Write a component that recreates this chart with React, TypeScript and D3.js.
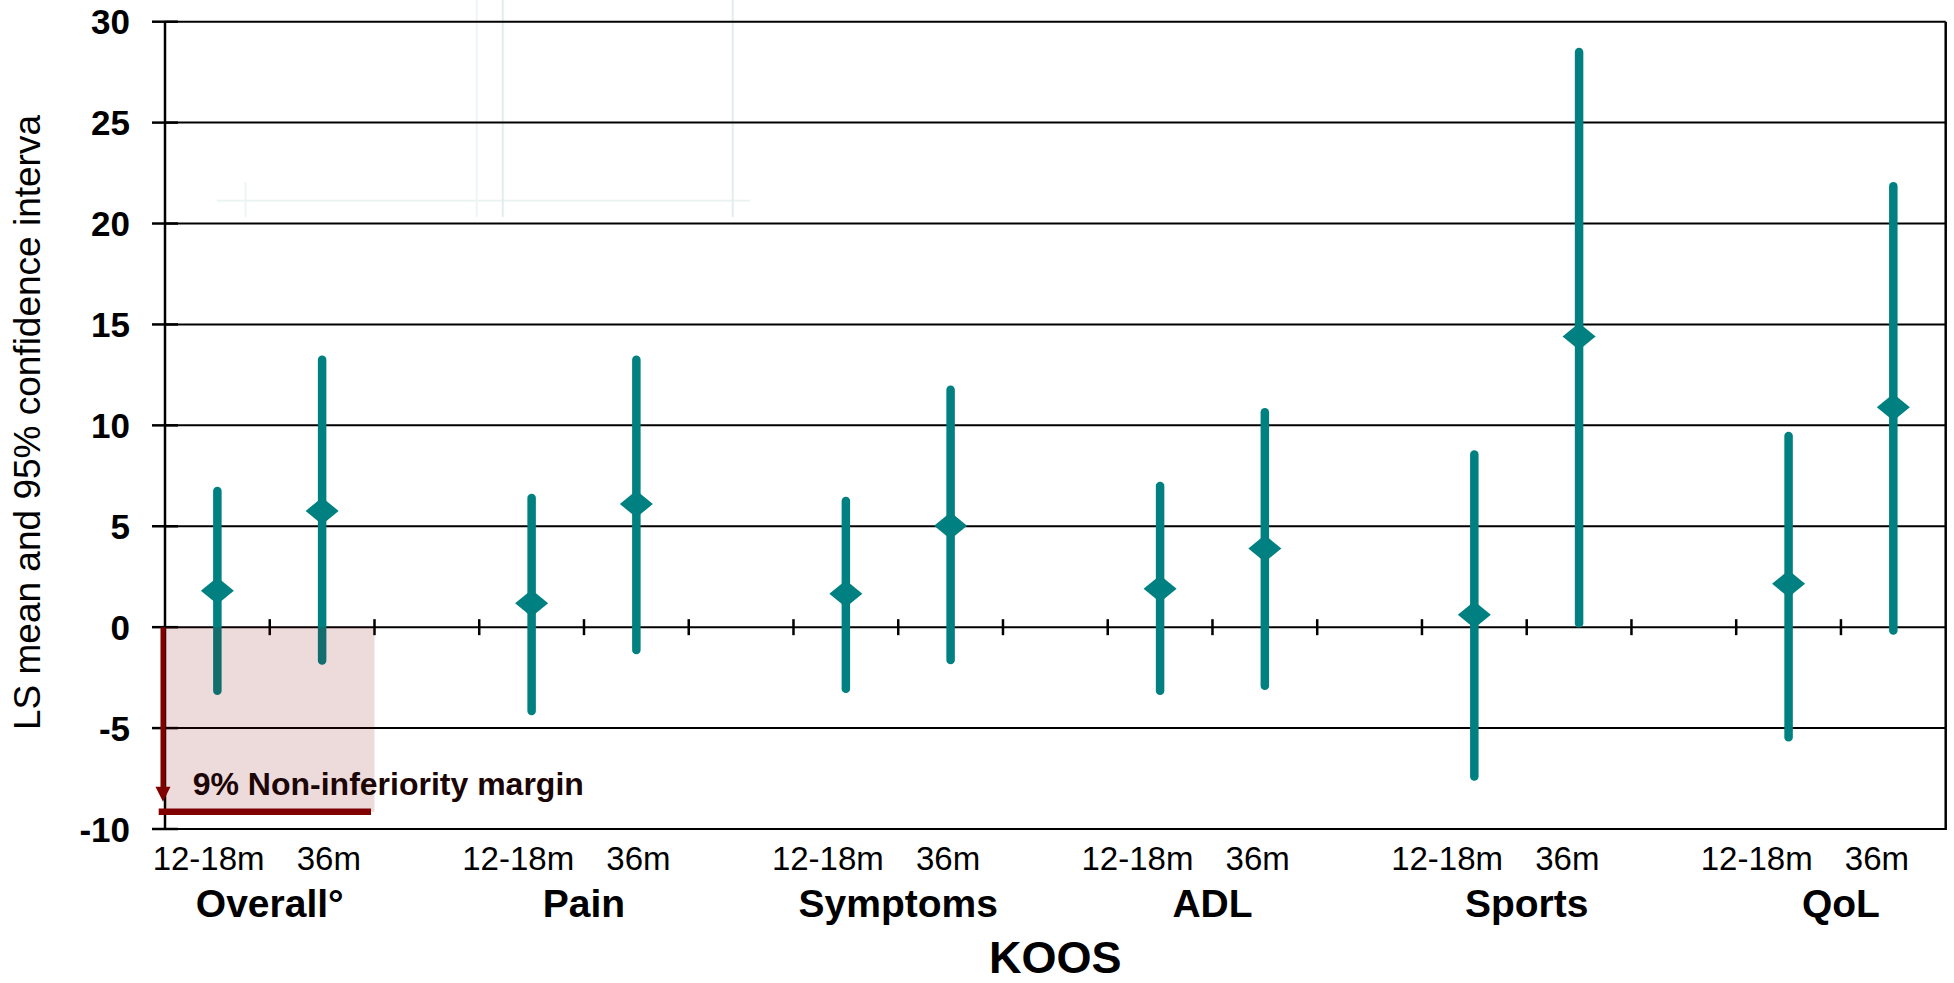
import React from 'react';
import * as d3 from 'd3';

const categories = ['Overall°', 'Pain', 'Symptoms', 'ADL', 'Sports', 'QoL'];
const timepoints = ['12-18m', '36m'];
const yTicks = [-10, -5, 0, 5, 10, 15, 20, 25, 30];

// LS mean and 95% CI, one pair [12-18m, 36m] per KOOS subscale
const means = [[1.8, 5.76], [1.18, 6.1], [1.65, 5.02], [1.9, 3.9], [0.62, 14.4], [2.15, 10.9]];
const lower = [[-3.15, -1.65], [-4.15, -1.13], [-3.05, -1.63], [-3.15, -2.9], [-7.4, 0.2], [-5.45, -0.16]];
const upper = [[6.75, 13.25], [6.4, 13.25], [6.25, 11.76], [7.0, 10.65], [8.55, 28.5], [9.47, 21.85]];
const NI_MARGIN = -9.15;

const W = 1954;
const H = 983;
const FONT = '"Liberation Sans", Arial, Helvetica, sans-serif';
const TEAL = '#008080';
const DARKRED = '#800000';

export default function App() {
  const left = 165;
  const right = 1945.7;
  const top = 21.7;
  const bottom = 829;

  // three slots per subscale (12-18m, 36m, gap), no gap after the last one
  const slots = categories.flatMap((c, i) =>
    i < categories.length - 1 ? [`${i}-0`, `${i}-1`, `${i}-g`] : [`${i}-0`, `${i}-1`]
  );

  const x = d3.scaleBand().domain(slots).range([left, right]);
  const xLabel = d3.scaleBand().domain(slots).range([157, 1911.5]);
  const y = d3.scaleLinear().domain([-10, 30]).range([bottom, top]);

  const rows = categories.flatMap((c, i) =>
    timepoints.map((t, j) => ({
      key: `${i}-${j}`,
      i,
      j,
      mean: means[i][j],
      lo: lower[i][j],
      hi: upper[i][j],
    }))
  );

  const cx = (k: string) => (x(k) as number) + x.bandwidth() / 2;
  const boundaries = slots.slice(1).map((k) => x(k) as number);
  const y0 = y(0);

  const rectRight = x('0-g') as number;

  return (
    <svg
      width={W}
      height={H}
      style={{ position: 'absolute', left: 0, top: 0, display: 'block', background: '#fff' }}
      fontFamily={FONT}
    >
      {/* faint artefact lines in the background */}
      <g stroke="#e2eded" strokeWidth={2} fill="none">
        <line x1={217} x2={750} y1={200.7} y2={200.7} stroke="#ecf3f3" />
        <line x1={245.5} x2={245.5} y1={182} y2={217} stroke="#eef4f4" />
        <line x1={476.7} x2={476.7} y1={0} y2={217} stroke="#eff5f5" />
        <line x1={502.7} x2={502.7} y1={0} y2={217} />
        <line x1={732.7} x2={732.7} y1={0} y2={217} />
      </g>

      {/* horizontal gridlines */}
      <g stroke="#000" strokeWidth={2}>
        {yTicks.map((t) => (
          <line key={t} x1={left} x2={right} y1={y(t)} y2={y(t)} />
        ))}
      </g>

      {/* y ticks */}
      <g stroke="#000" strokeWidth={2.5}>
        {yTicks.map((t) => (
          <line key={t} x1={152} x2={178} y1={y(t)} y2={y(t)} />
        ))}
      </g>

      {/* x ticks on zero line */}
      <g stroke="#000" strokeWidth={2.5}>
        {boundaries.map((b, k) => (
          <line key={k} x1={b} x2={b} y1={y0 - 8} y2={y0 + 8} />
        ))}
      </g>

      {/* frame */}
      <line x1={left} x2={left} y1={top} y2={bottom + 1} stroke="#000" strokeWidth={2.5} />
      <line x1={right} x2={right} y1={top} y2={bottom + 1} stroke="#000" strokeWidth={2.5} />

      {/* confidence intervals and means */}
      <g>
        {rows.map((r) => {
          const px = cx(r.key);
          const py = y(r.mean);
          return (
            <g key={r.key}>
              <line
                x1={px}
                x2={px}
                y1={y(r.lo)}
                y2={y(r.hi)}
                stroke={TEAL}
                strokeWidth={8.5}
                strokeLinecap="round"
              />
              <path
                d={`M${px},${py - 13.5}L${px + 16.5},${py}L${px},${py + 13.5}L${px - 16.5},${py}Z`}
                fill={TEAL}
              />
            </g>
          );
        })}
      </g>

      {/* non-inferiority region */}
      <rect
        x={left}
        y={y0}
        width={rectRight - left}
        height={y(NI_MARGIN) - y0}
        fill="rgba(128,0,0,0.14)"
      />
      <line
        x1={158.7}
        x2={371}
        y1={y(NI_MARGIN)}
        y2={y(NI_MARGIN)}
        stroke={DARKRED}
        strokeWidth={6.5}
      />
      <line x1={163} x2={163} y1={y0} y2={y(NI_MARGIN) - 22} stroke={DARKRED} strokeWidth={5} />
      <path
        d={`M${155.5},${y(NI_MARGIN) - 25}L${170.5},${y(NI_MARGIN) - 25}L${163},${y(NI_MARGIN) - 10}Z`}
        fill={DARKRED}
      />
      <text x={192.7} y={795} fontSize={32} fontWeight="bold" fill="#1c0505">
        9% Non-inferiority margin
      </text>

      {/* y tick labels */}
      <g fontSize={35} fontWeight="bold" textAnchor="end" fill="#000">
        {yTicks.map((t) => (
          <text key={t} x={130} y={y(t)} dy="0.36em">
            {t}
          </text>
        ))}
      </g>

      {/* y axis title */}
      <text transform="translate(40,730) rotate(-90)" fontSize={37} fill="#000">
        LS mean and 95% confidence interva
      </text>

      {/* timepoint labels */}
      <g fontSize={33} textAnchor="middle" fill="#000">
        {rows.map((r) => (
          <text
            key={r.key}
            x={(xLabel(r.key) as number) + xLabel.bandwidth() / 2 + (r.j === 1 ? 17 : 0)}
            y={870}
          >
            {timepoints[r.j]}
          </text>
        ))}
      </g>

      {/* subscale labels */}
      <g fontSize={39} fontWeight="bold" textAnchor="middle" fill="#000">
        {categories.map((c, i) => (
          <text key={c} x={x(`${i}-1`) as number} y={916.7}>
            {c}
          </text>
        ))}
      </g>

      <text x={(left + right) / 2} y={973} fontSize={45} fontWeight="bold" textAnchor="middle">
        KOOS
      </text>
    </svg>
  );
}
